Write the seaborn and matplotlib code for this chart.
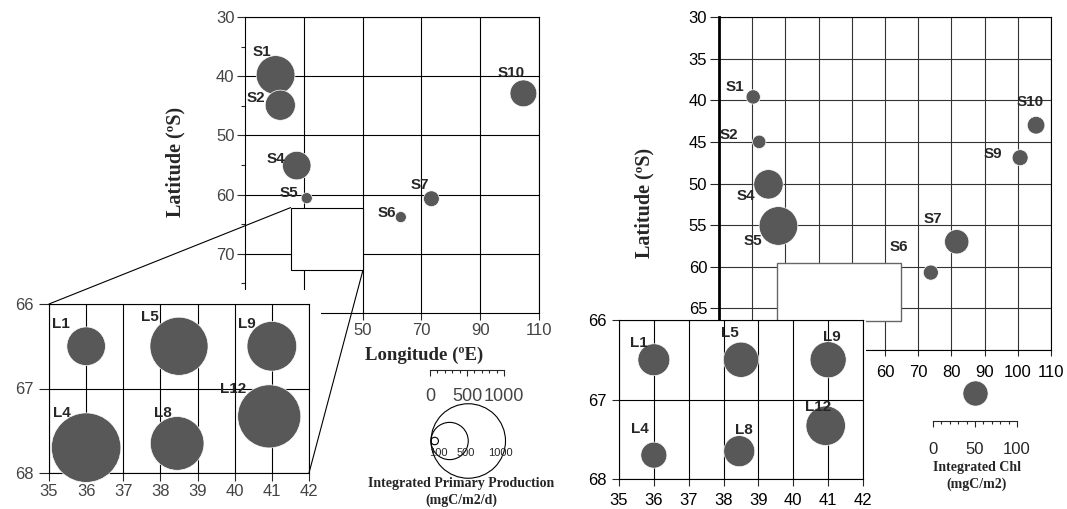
import numpy as np
import seaborn as sns
import matplotlib.pyplot as plt
from matplotlib.patches import Rectangle, ConnectionPatch
from matplotlib.ticker import MultipleLocator

# left map: integrated primary production (mgC/m2/d)
pp_station = ['S1', 'S2', 'S4', 'S5', 'S6', 'S7', 'S10']
pp_lon = [20.4, 22.0, 27.6, 31.0, 63.0, 73.4, 104.7]
pp_lat = [39.8, 44.9, 55.1, 60.6, 63.8, 60.7, 42.9]
pp_value = [520, 405, 383, 149, 149, 212, 360]

# right map: integrated chlorophyll (mgC/m2)
chl_station = ['S1', 'S2', 'S4', 'S5', 'S6', 'S7', 'S9', 'S10']
chl_lon = [20.3, 22.1, 24.9, 27.9, 73.8, 81.6, 100.7, 105.5]
chl_lat = [39.6, 45.0, 50.1, 55.1, 60.7, 57.0, 46.9, 43.0]
chl_value = [17, 16, 35, 46, 18, 29, 19, 21]

# coastal stations, shown in both insets
l_station = ['L1', 'L5', 'L9', 'L4', 'L8', 'L12']
l_lon = [36.0, 38.5, 41.0, 36.0, 38.45, 40.93]
l_lat = [66.5, 66.5, 66.5, 67.7, 67.65, 67.33]
l_pp = [518, 780, 667, 932, 721, 847]
l_chl = [38, 42, 43, 31, 37, 47]

# legends
pp_legend = [100, 500, 1000]
pp_ruler = [0, 500, 1000]
chl_legend = [30]
chl_ruler = [0, 50, 100]

# label offsets in pixels (right, down)
pp_off = [(-14, -23), (-24, -7), (-21, -7), (-18, -5), (-14, -4), (-12, -14), (-12, -20)]
chl_off = [(-18, -10), (-30, -7), (-23, 12), (-26, 15), (-32, -26), (-24, -23), (-27, -4), (-6, -23)]
lpp_off = [(-25, -22), (-29, -29), (-25, -22), (-24, -35), (-14, -30), (-36, -27)]
lchl_off = [(-15, -17), (-11, -27), (4, -23), (-14, -26), (5, -21), (-8, -19)]

W, H, DPI = 1067, 509, 100
PP_PX = 0.0745   # circle diameter in px per mgC/m2/d
CHL_PX = 0.84    # circle diameter in px per mgC/m2
DOT = '#585858'

sns.set_style('ticks')
plt.rcParams['font.family'] = ['Liberation Sans', 'DejaVu Sans']
SERIF = 'Liberation Serif'


def box(x0, y0, x1, y1):
    return [x0 / W, 1 - y1 / H, (x1 - x0) / W, (y1 - y0) / H]


def area(values, px_per_unit):
    d = np.asarray(values, dtype=float) * px_per_unit * 72 / DPI
    return d ** 2


def dots(ax, x, y, vals, scale, names, offs, clip=True):
    sns.scatterplot(x=x, y=y, s=area(vals, scale), color=DOT, edgecolor='white',
                    linewidth=0.5, ax=ax, legend=False, zorder=3, clip_on=clip)
    for xi, yi, n, (dx, dy) in zip(x, y, names, offs):
        ax.annotate(n, (xi, yi), xytext=(dx, -dy), textcoords='offset pixels',
                    ha='center', va='center', fontsize=11, fontweight='bold',
                    zorder=4, annotation_clip=False)


def style_axes(ax, gridcolor, labelcolor):
    ax.set_axisbelow(True)
    ax.grid(True, color=gridcolor, lw=0.8)
    for s in ax.spines.values():
        s.set_color('black')
        s.set_linewidth(0.8)
    ax.tick_params(labelsize=12, labelcolor=labelcolor, width=0.8, direction='out')
    ax.set_xlabel('')
    ax.set_ylabel('')


fig = plt.figure(figsize=(W / DPI, H / DPI), dpi=DPI)

# ---------------- left map ----------------
ax1 = fig.add_axes(box(245, 17, 539, 313))
dots(ax1, pp_lon, pp_lat, pp_value, PP_PX, pp_station, pp_off, clip=False)
ax1.set_xlim(10, 110)
ax1.set_ylim(80, 30)
style_axes(ax1, 'black', '#444444')
ax1.set_xticks([30, 50, 70, 90, 110])
ax1.set_yticks([30, 40, 50, 60, 70])
ax1.yaxis.set_minor_locator(MultipleLocator(5))
ax1.tick_params(axis='y', which='major', length=6, pad=1.5)
ax1.tick_params(axis='y', which='minor', length=3, width=0.8)
ax1.tick_params(axis='x', which='major', length=5, pad=2)
ax1.add_patch(Rectangle((25.5, 62.2), 24.6, 10.6, facecolor='white',
                        edgecolor='black', lw=0.8, zorder=5))
ax1.set_xlabel('Longitude (ºE)', family=SERIF, fontweight='bold', fontsize=13.5)
ax1.xaxis.set_label_coords(0.609, -0.115)
ax1.set_ylabel('Latitude (ºS)', family=SERIF, fontweight='bold', fontsize=14.5)
ax1.yaxis.set_label_coords(-0.204, 0.51)

fig.add_artist(Rectangle((0, 0), 321 / W, 1 - 290 / H, transform=fig.transFigure,
                         facecolor='white', edgecolor='none', zorder=1))

ins1 = fig.add_axes(box(49, 304, 309, 473))
ins1.set_zorder(2)
dots(ins1, l_lon, l_lat, l_pp, PP_PX, l_station, lpp_off, clip=False)
ins1.set_xlim(35, 42)
ins1.set_ylim(68, 66)
style_axes(ins1, 'black', '#444444')
ins1.set_xticks(range(35, 43))
ins1.set_yticks([66, 67, 68])
ins1.tick_params(axis='y', length=7, pad=4)
ins1.tick_params(axis='x', length=6, pad=2)

for a, b in [((25.5, 62.2), (0, 1)), ((50.1, 72.8), (1, 0))]:
    fig.add_artist(ConnectionPatch(xyA=a, coordsA=ax1.transData, xyB=b,
                                   coordsB=ins1.transAxes, color='black',
                                   lw=0.8, zorder=3))

# pp legend: ruler and nested circles
rax = fig.add_axes(box(430, 369, 504, 370))
rax.set_xlim(0, 1000)
rax.set_yticks([])
for s in ['top', 'left', 'right']:
    rax.spines[s].set_visible(False)
rax.spines['bottom'].set_linewidth(0.8)
rax.set_xticks(pp_ruler)
rax.xaxis.set_minor_locator(MultipleLocator(100))
rax.tick_params(axis='x', which='major', length=4, width=0.8, pad=9, labelsize=13,
                labelcolor='#444444')
rax.tick_params(axis='x', which='minor', length=2, width=0.8)
rax.patch.set_visible(False)

k = PP_PX
lax = fig.add_axes(box(420, 400, 520, 482))
lax.set_xlim((420 - 431) / k, (520 - 431) / k)
lax.set_ylim((441 - 482) / k, (441 - 400) / k)
lax.axis('off')
sns.scatterplot(x=[v / 2 for v in pp_legend], y=[0] * len(pp_legend),
                s=area(pp_legend, PP_PX), facecolor='none', edgecolor='black',
                linewidth=0.8, ax=lax, legend=False, clip_on=False)
for v in pp_legend:
    lax.text(v * 0.93, -161, str(v), ha='center', va='center', fontsize=8)
lax.set_xlabel('')
lax.set_ylabel('')
fig.text(461 / W, 1 - 483 / H, 'Integrated Primary Production', ha='center',
         va='center', family=SERIF, fontweight='bold', fontsize=10)
fig.text(461 / W, 1 - 500 / H, '(mgC/m2/d)', ha='center', va='center',
         family=SERIF, fontweight='bold', fontsize=10)

# ---------------- right map ----------------
ax2 = fig.add_axes(box(719, 17, 1051, 350))
dots(ax2, chl_lon, chl_lat, chl_value, CHL_PX, chl_station, chl_off)
ax2.set_xlim(10, 110)
ax2.set_ylim(70, 30)
style_axes(ax2, '#333333', 'black')
ax2.set_xticks(range(10, 111, 10))
ax2.set_yticks(range(30, 71, 5))
ax2.spines['left'].set_linewidth(2)
ax2.tick_params(axis='y', length=6.5, pad=2)
ax2.tick_params(axis='x', length=4, pad=7)
ax2.add_patch(Rectangle((27.5, 59.5), 37.3, 7.0, facecolor='white',
                        edgecolor='#666666', lw=1, zorder=5))
ax2.set_ylabel('Latitude (ºS)', family=SERIF, fontweight='bold', fontsize=14.5)
ax2.yaxis.set_label_coords(-0.193, 0.441)

fig.add_artist(Rectangle((580 / W, 0), (866 - 580) / W, 1 - 321 / H,
                         transform=fig.transFigure, facecolor='white',
                         edgecolor='none', zorder=1))

ins2 = fig.add_axes(box(619, 320, 863, 479))
ins2.set_zorder(2)
dots(ins2, l_lon, l_lat, l_chl, CHL_PX, l_station, lchl_off, clip=False)
ins2.set_xlim(35, 42)
ins2.set_ylim(68, 66)
style_axes(ins2, 'black', 'black')
ins2.set_xticks(range(35, 43))
ins2.set_yticks([66, 67, 68])
ins2.tick_params(axis='y', length=5, pad=4)
ins2.tick_params(axis='x', length=5, pad=5)

# chl legend
cax = fig.add_axes(box(933, 380, 1017, 406))
cax.set_xlim(0, 100)
cax.set_ylim(-13 / CHL_PX, 13 / CHL_PX)
cax.axis('off')
sns.scatterplot(x=[np.mean(chl_ruler)] * len(chl_legend), y=[0] * len(chl_legend),
                s=area(chl_legend, CHL_PX), color=DOT, edgecolor='white',
                linewidth=0.5, ax=cax, legend=False, clip_on=False)

crax = fig.add_axes(box(933, 420, 1017, 421))
crax.set_xlim(0, 100)
crax.set_yticks([])
for s in ['top', 'left', 'right']:
    crax.spines[s].set_visible(False)
crax.spines['bottom'].set_linewidth(0.8)
crax.set_xticks(chl_ruler)
crax.xaxis.set_minor_locator(MultipleLocator(10))
crax.tick_params(axis='x', which='major', length=4, width=0.8, pad=11, labelsize=12)
crax.tick_params(axis='x', which='minor', length=2, width=0.8)
crax.patch.set_visible(False)
fig.text(977 / W, 1 - 467 / H, 'Integrated Chl', ha='center', va='center',
         family=SERIF, fontweight='bold', fontsize=10)
fig.text(977 / W, 1 - 484 / H, '(mgC/m2)', ha='center', va='center',
         family=SERIF, fontweight='bold', fontsize=10)

fig.savefig('out.png', dpi=DPI, facecolor='white')
